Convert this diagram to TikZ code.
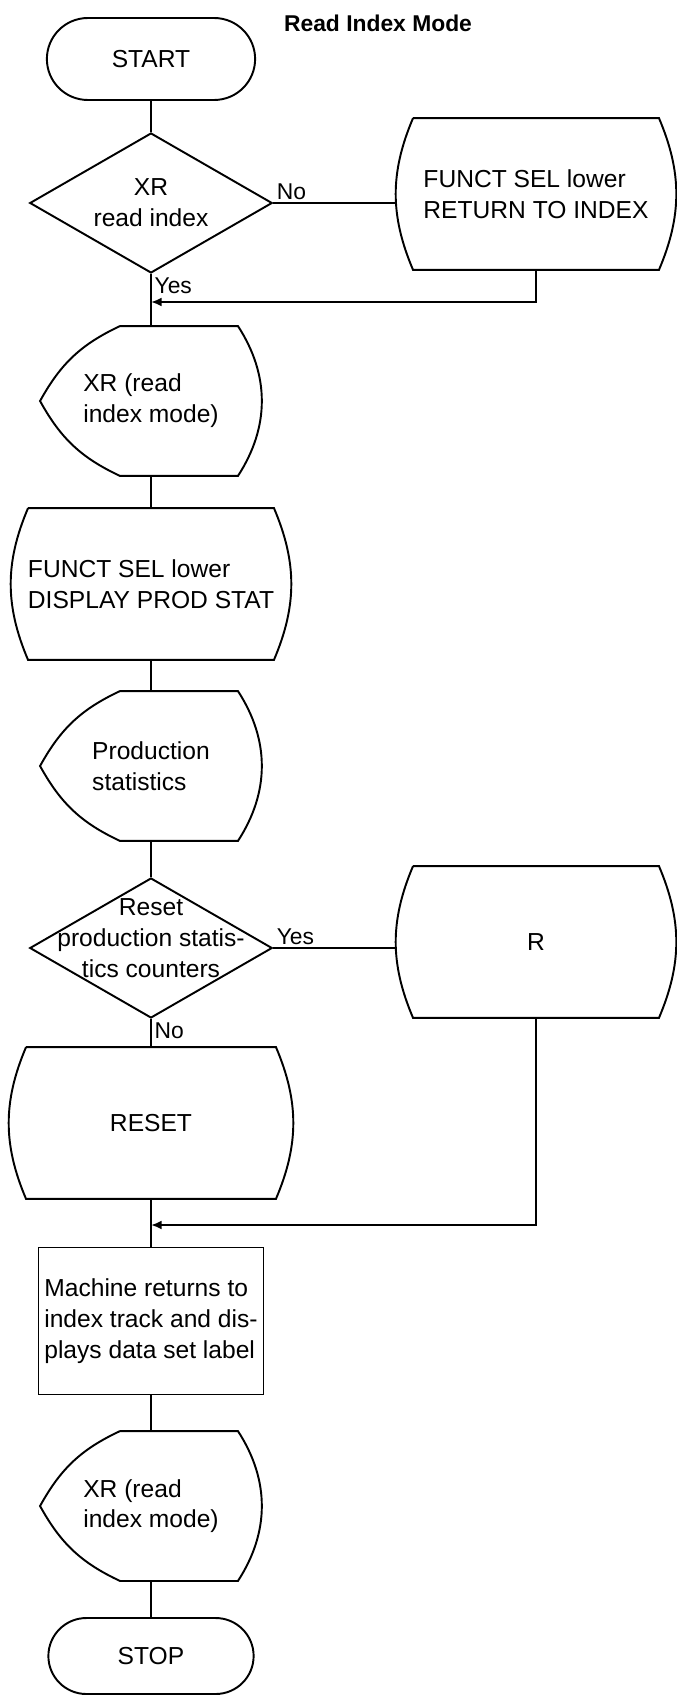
\documentclass[tikz,border=0pt]{standalone}
\usepackage{fontspec}
\setmainfont{Liberation Sans}
\usetikzlibrary{shapes.geometric,shapes.misc,arrows.meta}

\begin{document}
\begin{tikzpicture}[x=0.02cm, y=0.02cm, >={Latex[length=6pt,width=5pt]}, line width=1.1pt,
		every node/.style={font=\fontsize{14}{17.5}\selectfont},
		txt/.style={inner sep=0pt},
		term/.style={rounded rectangle, draw, minimum width=4.4cm, minimum height=1.64cm},
		decision/.style={diamond, draw, aspect=1.7, inner sep=0pt, align=center,
			minimum width=4.85cm, minimum height=2.8cm},
		barrel/.style={rectangle, minimum width=5.56cm, minimum height=3cm, align=left},
		disp/.style={rectangle, minimum width=4.4cm, minimum height=2.96cm, align=left},
		proc/.style={rectangle, draw, minimum width=4.36cm, minimum height=2.94cm, align=left},
		lbl/.style={inner sep=1.5pt, font=\fontsize{13}{15}\selectfont}]
		\useasboundingbox (0,0) rectangle (676,-1696);
		\node[font=\bfseries\fontsize{13}{16}\selectfont] (title) at (378,-23) {Read Index Mode};
		\node[term] (start) at (151,-59) {START};
		\node[decision] (dec1) at (151,-203) {XR\\read index};
		\node[barrel] (rtn) at (536,-194) {FUNCT SEL lower\\RETURN TO INDEX};
		\node[disp] (xr1) at (151,-401) {XR (read\\index mode)};
		\node[barrel] (prod) at (151,-584) {FUNCT SEL lower\\DISPLAY PROD STAT};
		\node[disp] (stat) at (151,-766) {Production\\statistics};
		\node[decision] (dec2) at (151,-948) {};
		\node[txt, align=center] (dec2txt) at (151,-938) {Reset\\production statis-\\tics counters};
		\node[barrel] (rbox) at (536,-942) {R};
		\node[barrel, minimum width=5.64cm] (reset) at (151,-1123) {RESET};
		\node[proc] (mach) at (151,-1321) {Machine returns to\\index track and dis-\\plays data set label};
		\node[disp] (xr2) at (151,-1506) {XR (read\\index mode)};
		\node[term, minimum width=4.34cm, minimum height=1.52cm] (stop) at (151,-1656) {STOP};
		% outlines of the curved boxes
		\foreach \n in {rtn,prod,rbox,reset}
		\draw ([xshift=.34cm]\n.north west) -- ([xshift=-.34cm]\n.north east)
		to[bend left=23] ([xshift=-.34cm]\n.south east) -- ([xshift=.34cm]\n.south west)
		to[bend left=23] ([xshift=.34cm]\n.north west);
		\foreach \n in {xr1,stat,xr2}
		\draw ([xshift=1.6cm]\n.north west) -- ([xshift=-.48cm]\n.north east)
		to[bend left=33] ([xshift=-.48cm]\n.south east) -- ([xshift=1.6cm]\n.south west)
		to[bend left=18] (\n.west) to[bend left=18] ([xshift=1.6cm]\n.north west);
		% flow lines
		\coordinate (j1) at (151,-302);
		\coordinate (j2) at (151,-1225);
		\draw (start) -- (dec1);
		\draw (dec1.east) -- node[lbl, anchor=south west, pos=0] (no1) {No} (dec1.east -| rtn.west);
		\draw (dec1.south) -- node[lbl, anchor=north west, pos=0] (yes1) {Yes} (xr1.north);
		\draw[->] (rtn.south) |- (j1);
		\draw (xr1) -- (prod);
		\draw (prod) -- (stat);
		\draw (stat) -- (dec2);
		\draw (dec2.east) -- node[lbl, anchor=south west, pos=0] (yes2) {Yes} (dec2.east -| rbox.west);
		\draw (dec2.south) -- node[lbl, anchor=north west, pos=0] (no2) {No} (reset.north);
		\draw[->] (rbox.south) |- (j2);
		\draw (reset) -- (mach);
		\draw (mach) -- (xr2);
		\draw (xr2) -- (stop);
	\end{tikzpicture}
\end{document}
